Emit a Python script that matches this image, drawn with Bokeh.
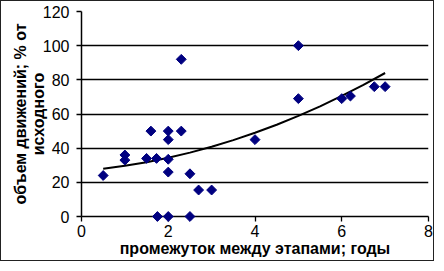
from bokeh.plotting import figure
from bokeh.models import Range1d, FixedTicker
from bokeh.embed import file_html
from bokeh.resources import INLINE

# Data
gap_years = [0.5, 1, 1, 1.5, 1.73, 1.6, 1.75, 2, 2, 2, 2, 2, 2.3, 2.3,
             2.5, 2.5, 2.7, 3, 4, 5, 5, 6, 6.2, 6.75, 7]
volume_pct = [24, 36, 33, 34, 34, 50, 0, 50, 45, 33.5, 26, 0, 50, 92,
              25, 0, 15.5, 15.5, 45, 100, 69, 69, 70.5, 76, 76]

# Trend line
trend_x = [0.5, 1, 1.5, 2, 2.5, 3, 3.5, 4, 4.5, 5, 5.5, 6, 6.5, 7]
trend_y = [28.0, 29.7, 31.8, 34.4, 37.4, 40.8, 44.7, 49.0, 53.7, 58.9, 64.5, 70.6, 77.0, 84.0]

x_ticks = [0, 2, 4, 6, 8]
y_ticks = [0, 20, 40, 60, 80, 100, 120]

x_label = "промежуток между этапами; годы"
y_label = "объем движений; % от\nисходного"

FONT = "Liberation Sans"

p = figure(width=434, height=261, output_backend="svg", toolbar_location=None,
           x_range=Range1d(0, 8), y_range=Range1d(0, 120),
           min_border_left=80, min_border_right=7, min_border_top=10,
           min_border_bottom=46,
           styles={"border": "1px solid #222"})

p.outline_line_color = None
p.background_fill_color = "white"
p.border_fill_color = "white"

p.xgrid.visible = False
p.ygrid.grid_line_color = "black"
p.ygrid.grid_line_width = 1.3

for ax in (p.xaxis[0], p.yaxis[0]):
    ax.axis_line_color = "black"
    ax.axis_line_width = 1.5
    ax.major_tick_line_color = "black"
    ax.major_tick_line_width = 1.3
    ax.major_tick_out = 5
    ax.major_tick_in = 0
    ax.minor_tick_line_color = None
    ax.major_label_text_font = FONT
    ax.major_label_text_font_size = "16px"
    ax.major_label_text_color = "black"
    ax.axis_label_text_font = FONT
    ax.axis_label_text_font_size = "16px"
    ax.axis_label_text_font_style = "bold"
    ax.axis_label_text_color = "black"

p.xaxis.ticker = FixedTicker(ticks=x_ticks)
p.yaxis.ticker = FixedTicker(ticks=y_ticks)
p.xaxis.axis_label = x_label
p.yaxis.axis_label = y_label
p.xaxis.major_label_standoff = 3
p.xaxis.axis_label_standoff = 0
p.yaxis.major_label_standoff = 7
p.yaxis.axis_label_standoff = -7
p.yaxis.axis_label_text_line_height = 1.05

p.line(trend_x, trend_y, line_color="black", line_width=2)
p.scatter(gap_years, volume_pct, marker="square", angle=0.785398, size=7,
          fill_color="#000080", line_color="#000080", level="overlay")

open("out.html", "w").write(file_html(p, INLINE))
